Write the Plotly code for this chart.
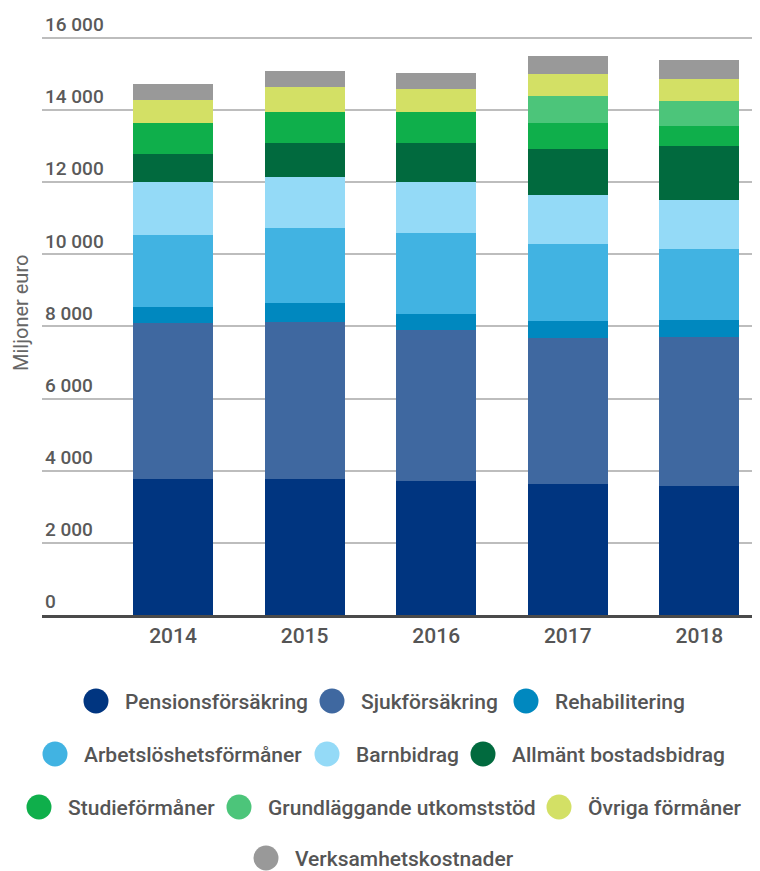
import plotly.graph_objects as go

# ---- data ----
years = ["2014", "2015", "2016", "2017", "2018"]
series_names = [
    "Pensionsförsäkring", "Sjukförsäkring", "Rehabilitering",
    "Arbetslöshetsförmåner", "Barnbidrag", "Allmänt bostadsbidrag",
    "Studieförmåner", "Grundläggande utkomststöd", "Övriga förmåner",
    "Verksamhetskostnader",
]
pensionsforsakring = [3760, 3760, 3710, 3630, 3570]
sjukforsakring = [4320, 4365, 4200, 4060, 4140]
rehabilitering = [460, 510, 445, 450, 480]
arbetsloshetsformaner = [1990, 2095, 2245, 2150, 1965]
barnbidrag = [1470, 1410, 1400, 1360, 1360]
allmant_bostadsbidrag = [790, 955, 1095, 1275, 1495]
studieformaner = [840, 845, 845, 710, 535]
grundlaggande_utkomststod = [0, 0, 0, 740, 700]
ovriga_formaner = [655, 695, 650, 620, 610]
verksamhetskostnader = [445, 445, 440, 490, 535]
series_values = [
    pensionsforsakring, sjukforsakring, rehabilitering, arbetsloshetsformaner,
    barnbidrag, allmant_bostadsbidrag, studieformaner,
    grundlaggande_utkomststod, ovriga_formaner, verksamhetskostnader,
]
y_ticks = [0, 2000, 4000, 6000, 8000, 10000, 12000, 14000, 16000]
y_title = "Miljoner euro"

# ---- styles ----
colors = ["#003580", "#3F68A0", "#0088BF", "#41B3E2", "#94DAF7",
          "#016A3E", "#0FAF4B", "#4CC57A", "#D3E065", "#999999"]

OFF = 8                      # page body margin of the html page
W, H = 760 - OFF, 871 - OFF
PLOT_LEFT, PLOT_RIGHT, PLOT_TOP, PLOT_BOTTOM = 42, 760, 10, 615  # screen px
L = PLOT_LEFT - OFF
R = (W + OFF) - PLOT_RIGHT
T = PLOT_TOP - OFF
B = (H + OFF) - PLOT_BOTTOM
plot_w = PLOT_RIGHT - PLOT_LEFT
plot_h = PLOT_BOTTOM - PLOT_TOP
FONT = "Roboto"

fig = go.Figure()
for name, vals, col in zip(series_names, series_values, colors):
    fig.add_trace(go.Bar(
        x=years, y=vals, name=name,
        marker=dict(color=col, line=dict(width=0)),
        showlegend=False,
    ))

# ---- custom legend (centered rows), positions in screen px ----
legend_rows = [[0, 1, 2], [3, 4, 5], [6, 7, 8], [9]]
legend_circle_x = [[96, 332, 526], [55, 327, 483], [39, 239, 559], [266]]
legend_row_y = [701, 754, 807, 858]


def px_to_paper_x(px):
    return (px - PLOT_LEFT) / plot_w


def px_to_paper_y(py):
    return (PLOT_BOTTOM - py) / plot_h


shapes = []
annotations = []
for row, cxs, py in zip(legend_rows, legend_circle_x, legend_row_y):
    for idx, cx in zip(row, cxs):
        shapes.append(dict(
            type="circle", xref="paper", yref="paper",
            xsizemode="pixel", ysizemode="pixel",
            xanchor=px_to_paper_x(cx), yanchor=px_to_paper_y(py),
            x0=-12.5, x1=12.5, y0=-12.5, y1=12.5,
            fillcolor=colors[idx], line=dict(width=0),
        ))
        annotations.append(dict(
            xref="paper", yref="paper",
            x=px_to_paper_x(cx + 28), y=px_to_paper_y(py + 1),
            xanchor="left", yanchor="middle", showarrow=False,
            text=series_names[idx], borderpad=0,
            font=dict(family=FONT, size=21, color="#555555", weight=500),
        ))

annotations.append(dict(
    xref="paper", yref="paper",
    x=px_to_paper_x(21), y=px_to_paper_y(313),
    xanchor="center", yanchor="middle", showarrow=False,
    text=y_title, textangle=-90, borderpad=0,
    font=dict(family=FONT, size=20, color="#666666", weight=400),
))

fig.update_layout(
    width=W, height=H,
    margin=dict(l=L, r=R, t=T, b=B, pad=0),
    barmode="stack",
    bargap=0.392,
    paper_bgcolor="white", plot_bgcolor="white",
    separators=", ",
    shapes=shapes,
    annotations=annotations,
    font=dict(family=FONT),
)
fig.update_xaxes(
    type="category",
    range=[-0.9954, 4.4605],
    showline=True, linecolor="#4a4a4a", linewidth=2.5,
    showgrid=False, ticks="", zeroline=False,
    tickfont=dict(family=FONT, size=21, color="#555555", weight=500),
)
fig.update_yaxes(
    range=[0, 16768],
    tickvals=y_ticks, tickformat=",d",
    ticklabelposition="inside top",
    showgrid=True, gridcolor="#bdbdbd", gridwidth=1.5,
    zeroline=False, showline=False, ticks="",
    tickfont=dict(family=FONT, size=19, color="#5a5a5a", weight=500),
)

fig.write_html("out.html")
